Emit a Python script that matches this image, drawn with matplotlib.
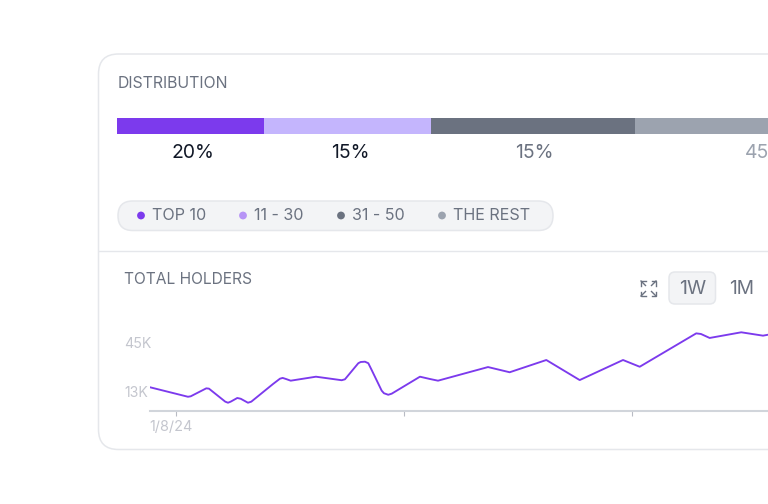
import matplotlib
matplotlib.use("Agg")
import matplotlib.pyplot as plt
from matplotlib.patches import FancyBboxPatch, Circle
from matplotlib.lines import Line2D
from matplotlib.transforms import ScaledTranslation

plt.rcParams["font.family"] = ["Inter", "DejaVu Sans"]

W, H = 768, 504

# Distribution bar: segment lengths as laid out by the card, with their printed shares
segment_lengths = [147, 167, 204, 240]
segment_colors = ["#7C3AED", "#C4B5FD", "#6B7280", "#9CA3AF"]
share_labels = ["20%", "15%", "15%", "45%"]
share_colors = ["#111827", "#111827", "#6B7280", "#9CA3AF"]
share_centers = [75.5, 233, 417, 649]

legend_labels = ["TOP 10", "11 - 30", "31 - 50", "THE REST"]
legend_dots = ["#7C3AED", "#B794F6", "#6B7280", "#9CA3AF"]
legend_dot_x = [141, 243, 341, 442]
legend_text_x = [152, 254, 352, 453]

# Holder count over time: days since 1/8/24 and thousands of holders
days = [-3.19, 1.47, 1.81, 3.72, 4.05, 6.05, 6.39, 6.72, 7.53, 7.95, 8.84, 9.25,
        11.91, 12.77, 13.10, 13.51, 14.09, 17.19, 20.35, 20.75, 22.39, 22.68,
        23.21, 23.62, 24.03, 25.26, 25.54, 26.07, 26.49, 29.96, 31.19, 32.18,
        38.32, 40.98, 45.48, 49.58, 54.90, 56.95, 63.89, 64.47, 65.54, 69.42,
        72.09, 72.70]
holders = [15.5, 9.3, 9.6, 14.8, 14.6, 6.1, 5.4, 6.1, 8.5, 8.0, 5.4, 6.1,
           17.6, 21.1, 21.6, 20.9, 19.8, 22.4, 20.1, 20.7, 31.2, 32.0,
           32.2, 31.2, 26.8, 13.3, 11.6, 10.6, 11.3, 22.4, 20.9, 19.8,
           28.7, 25.3, 33.3, 20.2, 33.3, 28.9, 50.7, 50.3, 47.7, 51.4,
           49.2, 49.8]
y_ticks = [13, 45]
y_tick_labels = ["13K", "45K"]
x_ticks = [0, 28, 56]
x_tick_labels = ["1/8/24", "", ""]

fig = plt.figure(figsize=(W / 100, H / 100), dpi=100, facecolor="white")
page = fig.add_axes([0, 0, 1, 1], xlim=(0, W), ylim=(H, 0))
page.axis("off")

# Card outline, running off the right edge
page.add_patch(FancyBboxPatch((98.5, 54), 760, 395.5,
                              boxstyle="round,pad=0,rounding_size=20",
                              fc="white", ec="#E5E7EB", lw=1.1))
page.add_line(Line2D([99, W], [250.5, 250.5], color="#E5E7EB", lw=1.0))

page.text(117.5, 83, "DISTRIBUTION", fontsize=11.4, color="#6B7280", va="center")
page.text(124, 280, "TOTAL HOLDERS", fontsize=11.2, color="#6B7280", va="center")

# Stacked distribution bar
bar_ax = fig.add_axes([117 / W, 1 - 134.5 / H, (W - 117) / W, 17 / H],
                      xlim=(0, W - 117), ylim=(0, 1))
bar_ax.axis("off")
left = 0
for length, color in zip(segment_lengths, segment_colors):
    bar_ax.barh(0.5, length, left=left, height=1, color=color, linewidth=0)
    left += length
for label, color, center in zip(share_labels, share_colors, share_centers):
    page.text(117 + center, 153.5, label, fontsize=13.9, color=color,
              ha="center", va="center", clip_on=True)

# Legend pill
page.add_patch(FancyBboxPatch((118, 201), 435, 29.5,
                              boxstyle="round,pad=0,rounding_size=14.7",
                              fc="#F3F4F6", ec="#E5E7EB", lw=1.1))
for label, color, dx, tx in zip(legend_labels, legend_dots, legend_dot_x, legend_text_x):
    page.add_patch(Circle((dx, 215.5), 3.9, fc=color, ec="none"))
    page.text(tx, 216, label, fontsize=11.6, color="#6B7280", va="center")

# Range controls
ex, ey = 648.5, 288.5
for sx in (-1, 1):
    for sy in (-1, 1):
        outer = (ex + sx * 7.5, ey + sy * 7.5)
        page.add_line(Line2D([outer[0] - sx * 4.5, outer[0], outer[0]],
                             [outer[1], outer[1], outer[1] - sy * 4.5],
                             color="#6B7280", lw=1.0, solid_joinstyle="miter"))
        page.add_line(Line2D([outer[0], outer[0] - sx * 4.5],
                             [outer[1], outer[1] - sy * 4.5],
                             color="#6B7280", lw=1.0))
page.add_patch(FancyBboxPatch((669, 272), 46.5, 32,
                              boxstyle="round,pad=0,rounding_size=6",
                              fc="#F3F4F6", ec="#E5E7EB", lw=1.1))
page.text(692.5, 289, "1W", fontsize=14, color="#6B7280", ha="center", va="center")
page.text(742, 289, "1M", fontsize=13.8, color="#6B7280", ha="center", va="center")

# Holder line chart
ax_left, ax_right, ax_top, ax_bottom = 150, W, 320, 411
ax = fig.add_axes([ax_left / W, 1 - ax_bottom / H,
                   (ax_right - ax_left) / W, (ax_bottom - ax_top) / H])
ax.patch.set_alpha(0)
ax.set_xlim(-3.19, -3.19 + (ax_right - ax_left) * 28 / 228)
ax.set_ylim(0, (ax_bottom - ax_top) * 32 / 49)
ax.plot(days, holders, color="#7C3AED", lw=1.35, solid_joinstyle="round")
for side in ("top", "right", "left"):
    ax.spines[side].set_visible(False)
ax.spines["bottom"].set_color("#D1D5DB")
ax.spines["bottom"].set_linewidth(1.5)
ax.set_yticks(y_ticks, y_tick_labels)
ax.tick_params(axis="y", length=0, pad=18.7, labelsize=10.2, labelcolor="#C4C6CE")
for tick_label in ax.get_yticklabels():
    tick_label.set_horizontalalignment("left")
ax.set_xticks(x_ticks, x_tick_labels)
ax.tick_params(axis="x", length=3.5, width=0.8, color="#B8BBC4", pad=3,
               labelsize=10.4, labelcolor="#C4C6CE")
shift = ScaledTranslation(-5 / 100, 0, fig.dpi_scale_trans)
for tick_label in ax.get_xticklabels():
    tick_label.set_transform(tick_label.get_transform() + shift)

fig.savefig("out.png", dpi=100)
